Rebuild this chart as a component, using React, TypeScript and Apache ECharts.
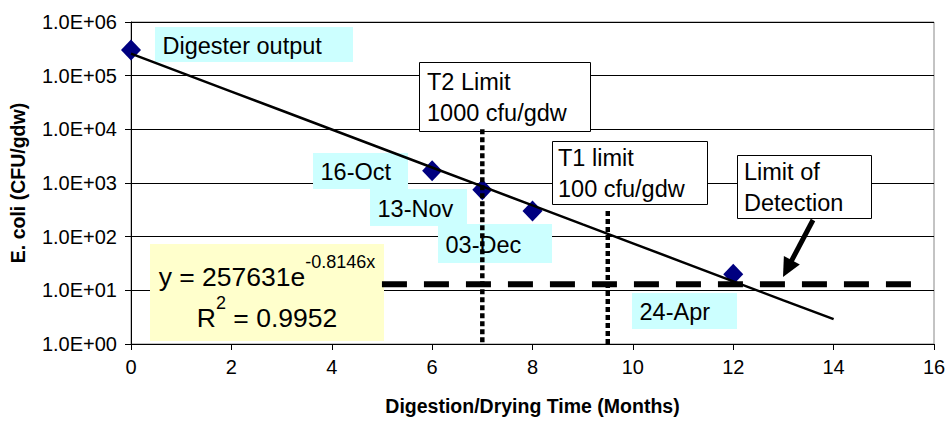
import React, { useEffect, useRef } from "react";
import * as echarts from "echarts";

// Measured samples
const months = [0, 6, 7, 8, 12];
const ecoli = [300000, 1700, 750, 300, 20];
const sampleLabels = ["Digester output", "16-Oct", "13-Nov", "03-Dec", "24-Apr"];

// Exponential trend line read at each month (y = 257631e^-0.8146x)
const trendMonths = [0, 1, 2, 3, 4, 5, 6, 7, 8, 9, 10, 11, 12, 13, 14];
const trendValues = [257631, 114100, 50560, 22400, 9924, 4397, 1948, 863, 382, 169, 75, 33.3, 14.7, 6.5, 2.9];

// Reference lines
const detectionLimit = 13;
const detectionFrom = 5;
const detectionTo = 15.7;
const t2Month = 7;
const t2Top = 10000;
const t1Month = 9.5;
const t1Top = 300;
const axisFloor = 1;

const equationMain = "y = 257631e";
const equationExp = "-0.8146x";
const rSquared = "0.9952";

const FONT = '"Liberation Sans", Arial, Helvetica, sans-serif';

export default function App() {
  const ref = useRef<HTMLDivElement>(null);
  useEffect(() => {
    document.body.style.margin = "0";
    if (!ref.current) return;
    const chart = echarts.init(ref.current, undefined, { renderer: "svg" });

    const cyanBoxes = [
      { text: sampleLabels[0], x: 155, y: 27, w: 198, h: 35 },
      { text: sampleLabels[1], x: 313, y: 153, w: 95, h: 36 },
      { text: sampleLabels[2], x: 370, y: 189, w: 97, h: 37 },
      { text: sampleLabels[3], x: 438, y: 224, w: 114, h: 39 },
      { text: sampleLabels[4], x: 632, y: 293, w: 105, h: 36 },
    ];
    const whiteBoxes = [
      { lines: ["T2 Limit", "1000 cfu/gdw"], x: 419, y: 62, w: 171, h: 69, tx: 427 },
      { lines: ["T1 limit", "100 cfu/gdw"], x: 552, y: 141, w: 155, h: 63, tx: 558 },
      { lines: ["Limit of", "Detection"], x: 737, y: 155, w: 134, h: 63, tx: 744 },
    ];

    const graphics: any[] = [];
    cyanBoxes.forEach((b) => {
      graphics.push({
        type: "rect",
        z: 1,
        shape: { x: b.x, y: b.y, width: b.w, height: b.h },
        style: { fill: "#CCFFFF" },
      });
      graphics.push({
        type: "text",
        z: 1,
        x: b.x + 7.5,
        y: b.y + b.h / 2 + 1,
        style: {
          text: b.text,
          fontSize: 23.5,
          fontFamily: FONT,
          fill: "#000",
          align: "left",
          verticalAlign: "middle",
        },
      });
    });
    whiteBoxes.forEach((b) => {
      graphics.push({
        type: "rect",
        z: 1,
        shape: { x: b.x + 0.5, y: b.y + 0.5, width: b.w, height: b.h },
        style: { fill: "#fff", stroke: "#000", lineWidth: 1 },
      });
      graphics.push({
        type: "text",
        z: 1,
        x: b.tx,
        y: b.y + b.h / 2 + 1,
        style: {
          text: b.lines.join("\n"),
          fontSize: 23.5,
          lineHeight: 31,
          fontFamily: FONT,
          fill: "#000",
          align: "left",
          verticalAlign: "middle",
        },
      });
    });

    // equation box
    graphics.push({
      type: "rect",
      z: 1,
      shape: { x: 150, y: 244, width: 234, height: 97 },
      style: { fill: "#FFFFCC" },
    });
    graphics.push({
      type: "text",
      z: 1,
      x: 267,
      y: 294,
      style: {
        text: `{m|${equationMain}}{s|${equationExp}}\n{m|R}{s|2}{m| = ${rSquared}}`,
        fontFamily: FONT,
        fill: "#000",
        align: "center",
        verticalAlign: "middle",
        rich: {
          m: { fontSize: 26.5, lineHeight: 41, fontFamily: FONT, verticalAlign: "bottom", padding: [0, 0, 4, 0] },
          s: { fontSize: 18, lineHeight: 24, fontFamily: FONT, verticalAlign: "top" },
        },
      },
    });

    // arrow pointing to limit of detection
    const sx = 813, sy = 220, tx = 783, ty = 277;
    const dx = tx - sx, dy = ty - sy;
    const len = Math.sqrt(dx * dx + dy * dy);
    const ux = dx / len, uy = dy / len;
    const headLen = 19, headHalf = 9;
    const bx = tx - ux * headLen, by = ty - uy * headLen;
    graphics.push({
      type: "line",
      z: 6,
      shape: { x1: sx, y1: sy, x2: bx + ux * 2, y2: by + uy * 2 },
      style: { stroke: "#000", lineWidth: 5 },
    });
    graphics.push({
      type: "polygon",
      z: 6,
      shape: {
        points: [
          [tx, ty],
          [bx - uy * headHalf, by + ux * headHalf],
          [bx + uy * headHalf, by - ux * headHalf],
        ],
      },
      style: { fill: "#000" },
    });

    const option: any = {
      animation: false,
      backgroundColor: "#fff",
      grid: {
        left: 130,
        right: 15,
        top: 22,
        bottom: 73,
        show: true,
        borderColor: "#888",
        borderWidth: 1,
        backgroundColor: "transparent",
      },
      xAxis: {
        type: "value",
        min: 0,
        max: 16,
        interval: 2,
        name: "Digestion/Drying Time (Months)",
        nameLocation: "middle",
        nameGap: 52,
        nameTextStyle: { fontSize: 19.5, fontWeight: "bold", fontFamily: FONT, color: "#000" },
        axisLine: { show: true, onZero: false, lineStyle: { color: "#000", width: 1 } },
        axisTick: { show: true, inside: false, length: 6, lineStyle: { color: "#000" } },
        axisLabel: { fontSize: 20, fontFamily: FONT, color: "#000", margin: 13 },
        splitLine: { show: false },
      },
      yAxis: {
        type: "log",
        logBase: 10,
        min: 1,
        max: 1000000,
        name: "E. coli (CFU/gdw)",
        nameLocation: "middle",
        nameGap: 103,
        nameTextStyle: { fontSize: 19.5, fontWeight: "bold", fontFamily: FONT, color: "#000" },
        axisLine: { show: true, lineStyle: { color: "#000", width: 1 } },
        axisTick: { show: true, inside: false, length: 6, lineStyle: { color: "#000" } },
        axisLabel: {
          fontSize: 20,
          fontFamily: FONT,
          color: "#000",
          margin: 14,
          formatter: (v: number) => {
            const e = Math.round(Math.log10(v));
            return `1.0E+${e < 10 ? "0" + e : e}`;
          },
        },
        splitLine: { show: true, lineStyle: { color: "#000", width: 1 } },
        minorTick: { show: false },
        minorSplitLine: { show: false },
      },
      graphic: { elements: graphics },
      series: [
        {
          type: "scatter",
          z: 2,
          data: months.map((m, i) => [m, ecoli[i]]),
          symbol: "diamond",
          symbolSize: [20, 21],
          itemStyle: { color: "#000080", opacity: 1 },
        },
        {
          type: "line",
          z: 3,
          data: trendMonths.map((m, i) => [m, trendValues[i]]),
          showSymbol: false,
          symbol: "none",
          lineStyle: { color: "#000", width: 2.5 },
        },
        {
          type: "line",
          z: 4,
          data: [
            [detectionFrom, detectionLimit],
            [detectionTo, detectionLimit],
          ],
          symbol: "none",
          lineStyle: { color: "#000", width: 6, type: [25, 17], cap: "butt" },
        },
        {
          type: "line",
          z: 4,
          data: [
            [t2Month, t2Top],
            [t2Month, axisFloor],
          ],
          symbol: "none",
          lineStyle: { color: "#000", width: 4.5, type: [5, 3], cap: "butt" },
        },
        {
          type: "line",
          z: 4,
          data: [
            [t1Month, t1Top],
            [t1Month, axisFloor],
          ],
          symbol: "none",
          lineStyle: { color: "#000", width: 4.5, type: [5, 3], cap: "butt" },
        },
      ],
    };
    chart.setOption(option);
    return () => chart.dispose();
  }, []);
  return <div ref={ref} style={{ width: 949, height: 421 }} />;
}
